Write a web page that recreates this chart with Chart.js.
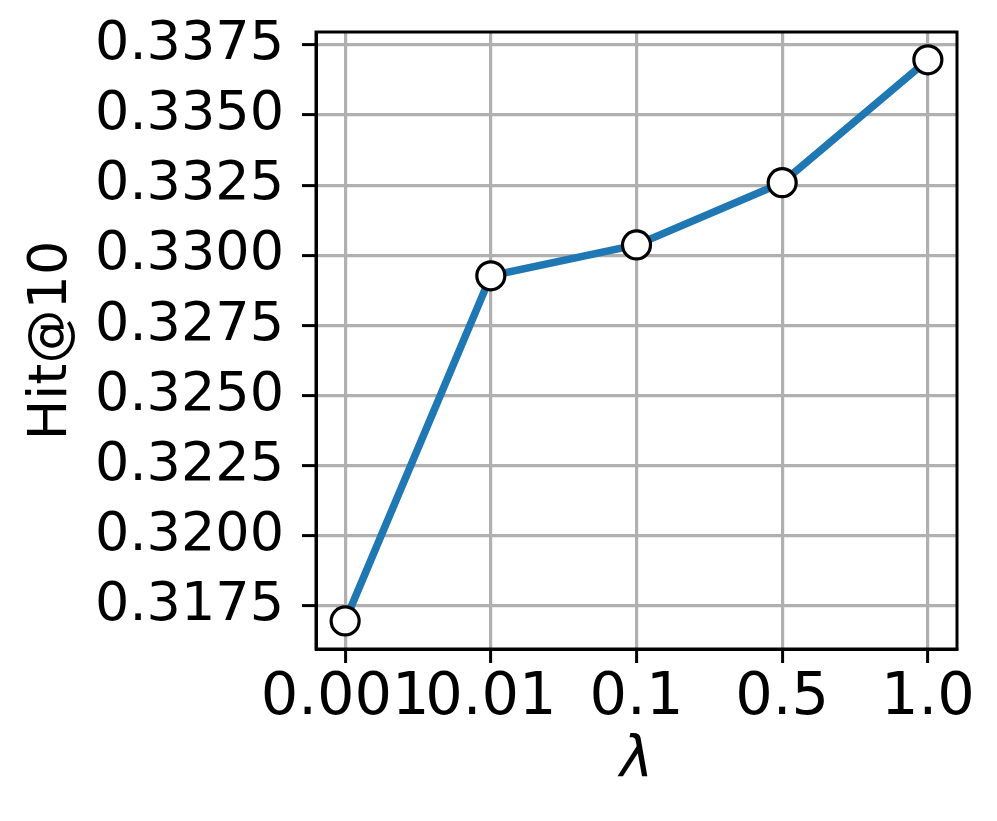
<!DOCTYPE html>
<html>
<head>
<meta charset="utf-8">
<script src="https://cdn.jsdelivr.net/npm/chart.js@4.4.0/dist/chart.umd.min.js"></script>
<style>
  html, body { margin: 0; padding: 0; background: #fff; }
  canvas { display: block; }
</style>
</head>
<body>
<canvas id="chart" width="997" height="821"></canvas>
<script>
// lambda values (categories) and Hit@10 per lambda
const lambdaLabels = ['0.001', '0.01', '0.1', '0.5', '1.0'];
const hitValues = [0.31697, 0.32927, 0.33037, 0.33259, 0.33697];
const yTicks = [0.3175, 0.3200, 0.3225, 0.3250, 0.3275, 0.3300, 0.3325, 0.3350, 0.3375];

const FONT = "'DejaVu Sans', sans-serif";

const ctx = document.getElementById('chart').getContext('2d');
new Chart(ctx, {
  type: 'line',
  data: {
    datasets: [{
      data: hitValues.map((v, i) => ({ x: i, y: v })),
      borderColor: '#1f77b4',
      borderWidth: 7.5,
      pointRadius: 14,
      pointHoverRadius: 14,
      pointBackgroundColor: '#ffffff',
      pointBorderColor: '#000000',
      pointBorderWidth: 3.2,
      tension: 0
    }]
  },
  options: {
    responsive: false,
    animation: false,
    devicePixelRatio: 1,
    layout: { padding: { top: 32, right: 40, left: 0, bottom: 0 } },
    plugins: { legend: { display: false }, tooltip: { enabled: false } },
    scales: {
      x: {
        type: 'linear',
        min: -0.2,
        max: 4.2,
        afterBuildTicks: s => { s.ticks = lambdaLabels.map((_, i) => ({ value: i })); },
        afterFit: s => { s.height = 172; s.paddingLeft = 0; s.paddingRight = 0; },
        ticks: {
          callback: v => lambdaLabels[v] ?? '',
          color: '#000',
          font: { family: FONT, size: 59 },
          padding: 0,
          maxRotation: 0,
          autoSkip: false
        },
        grid: { color: '#b0b0b0', lineWidth: 3.2, tickColor: '#000', tickLength: 14, tickWidth: 3 },
        border: { color: '#000', width: 3 },
        title: {
          display: true,
          text: 'λ',
          color: '#000',
          font: { family: FONT, size: 56, style: 'italic' },
          padding: { top: 0, bottom: 26 }
        }
      },
      y: {
        type: 'linear',
        min: 0.31597,
        max: 0.33796,
        afterBuildTicks: s => { s.ticks = yTicks.map(v => ({ value: v })); },
        afterFit: s => { s.width = 316; s.paddingTop = 0; s.paddingBottom = 0; },
        ticks: {
          callback: v => v.toFixed(4),
          color: '#000',
          font: { family: FONT, size: 54 },
          padding: 18
        },
        grid: { color: '#b0b0b0', lineWidth: 3.2, tickColor: '#000', tickLength: 14, tickWidth: 3 },
        border: { color: '#000', width: 3 },
        title: {
          display: true,
          text: 'Hit@10',
          color: '#000',
          font: { family: FONT, size: 54 },
          padding: { top: 20, bottom: 0 }
        }
      }
    }
  },
  plugins: [{
    id: 'frame',
    afterDraw(chart) {
      const a = chart.chartArea, c = chart.ctx;
      c.save();
      c.strokeStyle = '#000';
      c.lineWidth = 3;
      c.strokeRect(a.left, a.top, a.right - a.left, a.bottom - a.top);
      c.restore();
    }
  }]
});
</script>
</body>
</html>
